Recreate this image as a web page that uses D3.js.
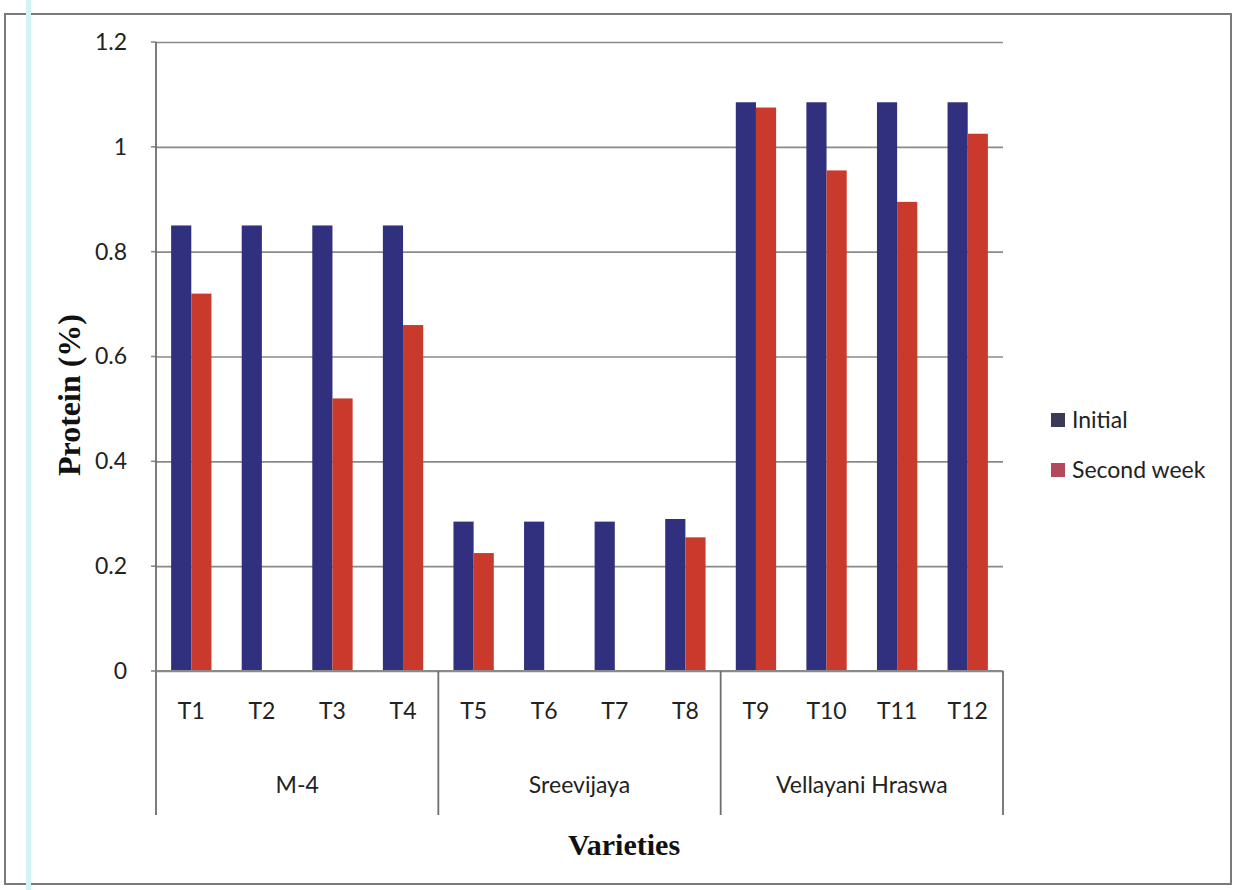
<!DOCTYPE html>
<html>
<head>
<meta charset="utf-8">
<script src="https://cdn.jsdelivr.net/npm/d3@7"></script>
<style>
  html, body { margin: 0; padding: 0; background: #ffffff; }
  svg { display: block; }
  .lbl { font-family: Lato, "Open Sans", sans-serif; fill: #222; }
  .title { font-family: "Liberation Serif", "Times New Roman", serif; font-weight: bold; fill: #111; }
</style>
</head>
<body>
<svg id="chart" width="1238" height="890"></svg>
<script>
// Treatments, grouped by variety
const categories = ["T1","T2","T3","T4","T5","T6","T7","T8","T9","T10","T11","T12"];
const varieties = ["M-4","Sreevijaya","Vellayani Hraswa"];
const perVariety = 4;

// Protein content (%)
const initialValues = [0.85,0.85,0.85,0.85, 0.285,0.285,0.285,0.29, 1.085,1.085,1.085,1.085];
const secondWeekValues = [0.72,0,0.52,0.66, 0.225,0,0,0.255, 1.075,0.955,0.895,1.025];

const seriesNames = ["Initial","Second week"];
const yTicks = [0,0.2,0.4,0.6,0.8,1,1.2];

const seriesColors = ["#30307e","#c93a2c"];
const legendColors = ["#3a3a58","#b24a5c"];

const svg = d3.select("#chart");

// page frame
svg.append("rect")
  .attr("x", 5).attr("y", 14).attr("width", 1226).attr("height", 870)
  .attr("fill", "none").attr("stroke", "#7a7a7a").attr("stroke-width", 2);
svg.append("rect")
  .attr("x", 26).attr("y", 0).attr("width", 5).attr("height", 890)
  .attr("fill", "#d6f3f3");

const plotLeft = 156, plotRight = 1003, plotTop = 42, plotBottom = 671;

const x0 = d3.scaleBand().domain(categories).range([plotLeft, plotRight]).paddingInner(0).paddingOuter(0);
const x1 = d3.scaleBand().domain(seriesNames).range([0, x0.bandwidth()]).paddingInner(0).paddingOuter(0.75);
const y = d3.scaleLinear().domain([0, 1.2]).range([plotBottom, plotTop]);
const color = d3.scaleOrdinal().domain(seriesNames).range(seriesColors);

// grid + y labels
const yAxis = svg.append("g")
  .attr("transform", `translate(${plotLeft},0)`)
  .call(d3.axisLeft(y).tickValues(yTicks).tickFormat(d3.format("~g"))
    .tickSize(-(plotRight - plotLeft)).tickPadding(29));
yAxis.select(".domain").remove();
yAxis.selectAll(".tick line").attr("stroke", "#8a8a8a").attr("stroke-width", 1.6);
yAxis.selectAll(".tick text").attr("class", "lbl").attr("font-size", 23).attr("fill", "#222");
// small outward ticks
svg.append("g").selectAll("line").data(yTicks).join("line")
  .attr("x1", plotLeft - 5).attr("x2", plotLeft)
  .attr("y1", d => y(d)).attr("y2", d => y(d))
  .attr("stroke", "#8a8a8a").attr("stroke-width", 1.6);

// bars
const rows = categories.map((c, i) => ({ cat: c, vals: [initialValues[i], secondWeekValues[i]] }));
const groups = svg.append("g").selectAll("g").data(rows).join("g")
  .attr("transform", d => `translate(${x0(d.cat)},0)`);
groups.selectAll("rect")
  .data(d => seriesNames.map((s, k) => ({ s, v: d.vals[k] })))
  .join("rect")
  .attr("x", d => x1(d.s))
  .attr("width", x1.bandwidth())
  .attr("y", d => y(d.v))
  .attr("height", d => y(0) - y(d.v))
  .attr("fill", d => color(d.s));

// y axis line
svg.append("line")
  .attr("x1", plotLeft).attr("x2", plotLeft).attr("y1", plotTop).attr("y2", 815)
  .attr("stroke", "#6e6e6e").attr("stroke-width", 1.8);
// baseline
svg.append("line")
  .attr("x1", plotLeft).attr("x2", plotRight).attr("y1", y(0)).attr("y2", y(0))
  .attr("stroke", "#8a8a8a").attr("stroke-width", 1.8);

// x tick labels
const xAxis = svg.append("g")
  .attr("transform", `translate(0,${y(0)})`)
  .call(d3.axisBottom(x0).tickSize(0).tickPadding(32));
xAxis.select(".domain").remove();
xAxis.selectAll(".tick text").attr("class", "lbl").attr("font-size", 23).attr("fill", "#222");

// variety separators and labels
const bounds = varieties.map((v, i) => ({
  name: v,
  x0: x0(categories[i * perVariety]),
  x1: x0(categories[i * perVariety + perVariety - 1]) + x0.bandwidth()
}));
svg.append("g").selectAll("line").data(bounds).join("line")
  .attr("x1", d => d.x1).attr("x2", d => d.x1)
  .attr("y1", y(0)).attr("y2", 815)
  .attr("stroke", "#6e6e6e").attr("stroke-width", 1.8);
svg.append("g").selectAll("text").data(bounds).join("text")
  .attr("class", "lbl").attr("font-size", 23)
  .attr("x", d => (d.x0 + d.x1) / 2).attr("y", 793)
  .attr("text-anchor", "middle")
  .text(d => d.name);

// axis titles
svg.append("text").attr("class", "title")
  .attr("font-size", 30)
  .attr("x", 624).attr("y", 855).attr("text-anchor", "middle")
  .text("Varieties");
svg.append("text").attr("class", "title")
  .attr("font-size", 32)
  .attr("transform", "translate(80,395) rotate(-90)")
  .attr("text-anchor", "middle")
  .text("Protein (%)");

// legend
const legend = svg.append("g").selectAll("g").data(seriesNames).join("g")
  .attr("transform", (d, i) => `translate(1051,${413 + i * 50})`);
legend.append("rect").attr("width", 14).attr("height", 14)
  .attr("fill", (d, i) => legendColors[i]);
legend.append("text").attr("class", "lbl")
  .attr("font-size", 23).attr("x", 21).attr("y", 15)
  .text(d => d);
</script>
</body>
</html>
